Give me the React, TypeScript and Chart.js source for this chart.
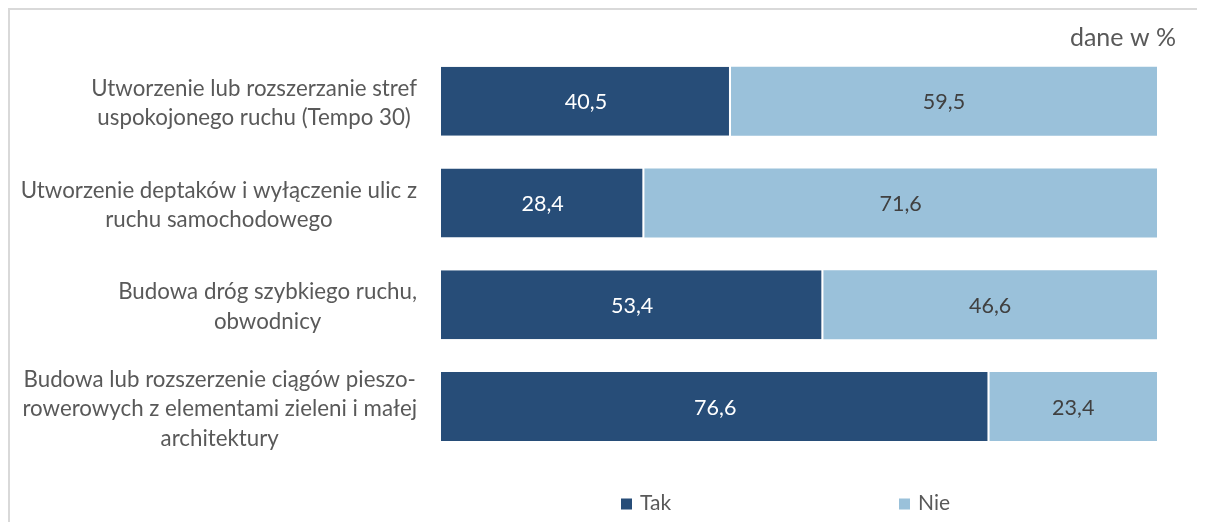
import React, { useEffect, useRef } from "react";
import { Chart, registerables } from "chart.js";

Chart.register(...registerables);

const categories: string[][] = [
  ["Utworzenie lub rozszerzanie stref", "uspokojonego ruchu (Tempo 30)"],
  ["Utworzenie deptaków i wyłączenie ulic z", "ruchu samochodowego"],
  ["Budowa dróg szybkiego ruchu,", "obwodnicy"],
  ["Budowa lub rozszerzenie ciągów pieszo-", "rowerowych z elementami zieleni i małej", "architektury"],
];
const seriesNames = ["Tak", "Nie"];
const takValues = [40.5, 28.4, 53.4, 76.6];
const nieValues = [59.5, 71.6, 46.6, 23.4];
const unitNote = "dane w %";

const DARK = "#274D78";
const LIGHT = "#9AC1DA";
const TEXT = "#595959";
const FONT_FAMILY = "Lato, 'Open Sans', sans-serif";

const fmt = (v: number) => v.toFixed(1).replace(".", ",");

const decorPlugin = {
  id: "decor",
  afterDatasetsDraw(chart: any) {
    const ctx = chart.ctx as CanvasRenderingContext2D;
    const yScale = chart.scales.y;
    ctx.save();

    // category labels (block right-aligned, lines centred)
    ctx.font = `22.3px ${FONT_FAMILY}`;
    const rightEdge = chart.chartArea.left - 24;
    const lh = 29.5;
    ctx.fillStyle = TEXT;
    ctx.textAlign = "center";
    ctx.textBaseline = "alphabetic";
    (chart.data.labels as string[][]).forEach((lines, i) => {
      const cy = yScale.getPixelForValue(i);
      const maxW = Math.max(...lines.map((l) => ctx.measureText(l).width));
      const cx = rightEdge - maxW / 2;
      const n = lines.length;
      lines.forEach((line, k) => {
        const y = cy + 9.5 + (k - (n - 1) / 2) * lh;
        ctx.fillText(line, cx, y);
      });
    });

    // data labels
    ctx.font = `21.5px ${FONT_FAMILY}`;
    chart.data.datasets.forEach((ds: any, di: number) => {
      const meta = chart.getDatasetMeta(di);
      ctx.fillStyle = di === 0 ? "#FFFFFF" : "#404040";
      meta.data.forEach((bar: any, i: number) => {
        const p = bar.getProps(["x", "y", "base"], true);
        const cx = (p.x + p.base) / 2;
        ctx.fillText(fmt(ds.data[i]), cx, p.y + 8);
      });
    });

    // unit note
    ctx.font = `25px ${FONT_FAMILY}`;
    ctx.fillStyle = TEXT;
    ctx.textAlign = "right";
    ctx.fillText(unitNote, chart.chartArea.right + 19, 35.7);

    // legend
    ctx.font = `21px ${FONT_FAMILY}`;
    const legendX = [611, 889];
    ctx.textAlign = "left";
    chart.data.datasets.forEach((ds: any, di: number) => {
      const x = legendX[di];
      ctx.fillStyle = ds.backgroundColor;
      ctx.fillRect(x, 488.5, 11, 11);
      ctx.fillStyle = TEXT;
      ctx.fillText(ds.label, x + 19, 500);
    });
    ctx.restore();
  },
};

export default function App() {
  const ref = useRef<HTMLCanvasElement>(null);
  useEffect(() => {
    if (!ref.current) return;
    const chart = new Chart(ref.current, {
      type: "bar",
      data: {
        labels: categories,
        datasets: [
          {
            label: seriesNames[0],
            data: takValues,
            backgroundColor: DARK,
            borderColor: "#FFFFFF",
            borderWidth: { top: 0, bottom: 0, left: 0, right: 2 },
            borderSkipped: false,
            barPercentage: 0.678,
            categoryPercentage: 1,
          },
          {
            label: seriesNames[1],
            data: nieValues,
            backgroundColor: LIGHT,
            borderWidth: 0,
            barPercentage: 0.678,
            categoryPercentage: 1,
          },
        ],
      },
      options: {
        indexAxis: "y",
        responsive: false,
        animation: false,
        layout: { padding: { left: 431, right: 48, top: 40.3, bottom: 64.6 } },
        plugins: {
          legend: { display: false },
          tooltip: { enabled: false },
        },
        scales: {
          x: { stacked: true, min: 0, max: 100, display: false },
          y: { stacked: true, display: false },
        },
      },
      plugins: [decorPlugin],
    });
    return () => chart.destroy();
  }, []);
  return (
    <div
      style={{
        width: 1195,
        height: 512,
        borderTop: "2px solid #D9D9D9",
        borderLeft: "2px solid #D9D9D9",
        background: "#FFFFFF",
      }}
    >
      <canvas ref={ref} width={1195} height={512} style={{ display: "block" }} />
    </div>
  );
}
